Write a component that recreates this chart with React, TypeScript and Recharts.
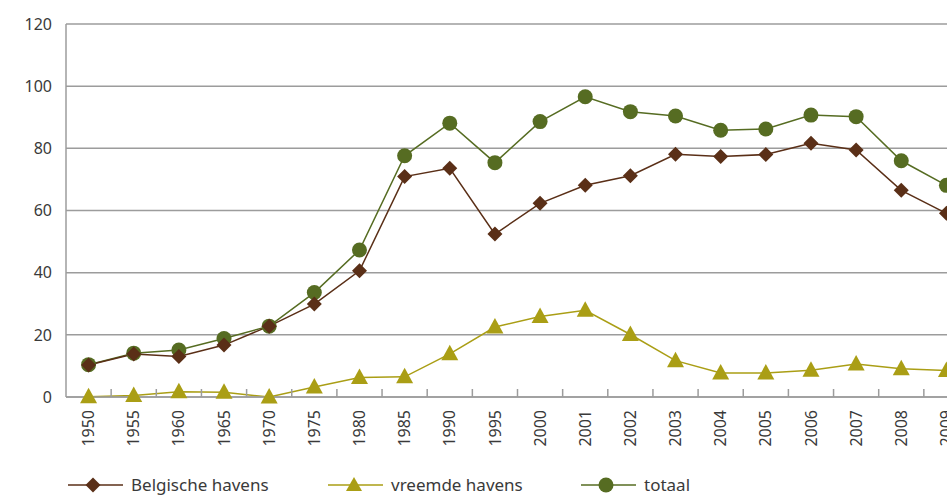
import { LineChart, Line, XAxis, YAxis, CartesianGrid } from 'recharts'

const years = ['1950', '1955', '1960', '1965', '1970', '1975', '1980', '1985', '1990', '1995',
  '2000', '2001', '2002', '2003', '2004', '2005', '2006', '2007', '2008', '2009']
const belgische = [10.3, 13.8, 13.0, 16.7, 22.8, 29.9, 40.6, 70.9, 73.6, 52.4,
  62.3, 68.1, 71.2, 78.1, 77.4, 78.0, 81.6, 79.5, 66.5, 59.1]
const vreemde = [0.1, 0.5, 1.7, 1.5, 0, 3.2, 6.3, 6.5, 13.9, 22.5,
  25.9, 27.9, 20.1, 11.7, 7.7, 7.7, 8.6, 10.6, 9.1, 8.5]
const totaal = [10.4, 14.1, 15.1, 18.8, 22.8, 33.6, 47.3, 77.6, 88.1, 75.4,
  88.6, 96.6, 91.8, 90.4, 85.8, 86.2, 90.7, 90.2, 76.0, 68.1]
const yTicks = [0, 20, 40, 60, 80, 100, 120]

const data = years.map((year, i) => ({
  year,
  belgische: belgische[i],
  vreemde: vreemde[i],
  totaal: totaal[i],
}))

const BROWN = '#5a2f17'
const OLIVE = '#aa9e15'
const GREEN = '#566c22'
const GRID = '#9c9c9c'
const TEXT = '#3a3a3a'
const FONT = '"Noto Sans", "Open Sans", sans-serif'

const CHART_W = 1000
const CHART_H = 495
const MARGIN = { top: 24, right: 31, bottom: 0, left: 0 }
const Y_W = 66
const STEP = (CHART_W - MARGIN.left - MARGIN.right - Y_W) / years.length

const Diamond = ({ cx, cy }: any) =>
  cx == null ? null : (
    <path d={`M${cx},${cy - 7.5}L${cx + 7.5},${cy}L${cx},${cy + 7.5}L${cx - 7.5},${cy}Z`} fill={BROWN} />
  )

const Triangle = ({ cx, cy }: any) =>
  cx == null ? null : (
    <path d={`M${cx},${cy - 9}L${cx + 8.5},${cy + 6.5}L${cx - 8.5},${cy + 6.5}Z`} fill={OLIVE} />
  )

const Circle = ({ cx, cy }: any) =>
  cx == null ? null : <circle cx={cx} cy={cy} r={7.5} fill={GREEN} />

const YearTick = ({ x, y, payload, index }: any) => (
  <g>
    {index > 0 && (
      <line x1={x - STEP / 2} x2={x - STEP / 2} y1={y} y2={y - 8} stroke={GRID} strokeWidth={1.5} />
    )}
    <text
      transform={`translate(${x},${y + 13}) rotate(-90)`}
      textAnchor="end"
      dy="0.35em"
      fill={TEXT}
      fontSize={16}
      fontFamily={FONT}
    >
      {payload.value}
    </text>
  </g>
)

function LegendItem({ label, children, lineColor, left }: any) {
  return (
    <div style={{ position: 'absolute', left, top: 0, display: 'flex', alignItems: 'center', whiteSpace: 'nowrap' }}>
      <svg width={55} height={18} style={{ marginRight: 8 }}>
        <line x1={0} x2={55} y1={9} y2={9} stroke={lineColor} strokeWidth={1.5} />
        {children}
      </svg>
      <span style={{ fontSize: 17, lineHeight: '20px', color: TEXT, fontFamily: FONT }}>{label}</span>
    </div>
  )
}

export default function App() {
  return (
    <div style={{ position: 'absolute', left: 0, top: 0, width: 947, height: 495, overflow: 'hidden', background: '#fff' }}>
      <LineChart width={CHART_W} height={CHART_H} data={data} margin={MARGIN}>
        <CartesianGrid vertical={false} stroke={GRID} strokeWidth={1.5} />
        <XAxis
          dataKey="year"
          height={98}
          interval={0}
          padding={{ left: STEP / 2, right: STEP / 2 }}
          tick={<YearTick />}
          tickLine={false}
          tickSize={0}
          tickMargin={0}
          axisLine={{ stroke: GRID, strokeWidth: 1.5 }}
        />
        <YAxis
          width={Y_W}
          domain={[0, 120]}
          ticks={yTicks}
          tickLine={false}
          tickSize={0}
          tickMargin={14}
          axisLine={{ stroke: GRID, strokeWidth: 1.5 }}
          tick={{ fill: TEXT, fontSize: 16, fontFamily: FONT }}
        />
        <Line dataKey="totaal" stroke={GREEN} strokeWidth={1.5} dot={<Circle />} isAnimationActive={false} />
        <Line dataKey="belgische" stroke={BROWN} strokeWidth={1.5} dot={<Diamond />} isAnimationActive={false} />
        <Line dataKey="vreemde" stroke={OLIVE} strokeWidth={1.5} dot={<Triangle />} isAnimationActive={false} />
      </LineChart>
      <div style={{ position: 'absolute', left: 0, top: 475, width: 947, height: 20 }}>
        <LegendItem label="Belgische havens" lineColor={BROWN} left={68}>
          <path d="M25,1.5L32.5,9L25,16.5L17.5,9Z" fill={BROWN} />
        </LegendItem>
        <LegendItem label="vreemde havens" lineColor={OLIVE} left={328}>
          <path d="M26,1L34,15L18,15Z" fill={OLIVE} />
        </LegendItem>
        <LegendItem label="totaal" lineColor={GREEN} left={581}>
          <circle cx={25} cy={9} r={7.5} fill={GREEN} />
        </LegendItem>
      </div>
    </div>
  )
}
